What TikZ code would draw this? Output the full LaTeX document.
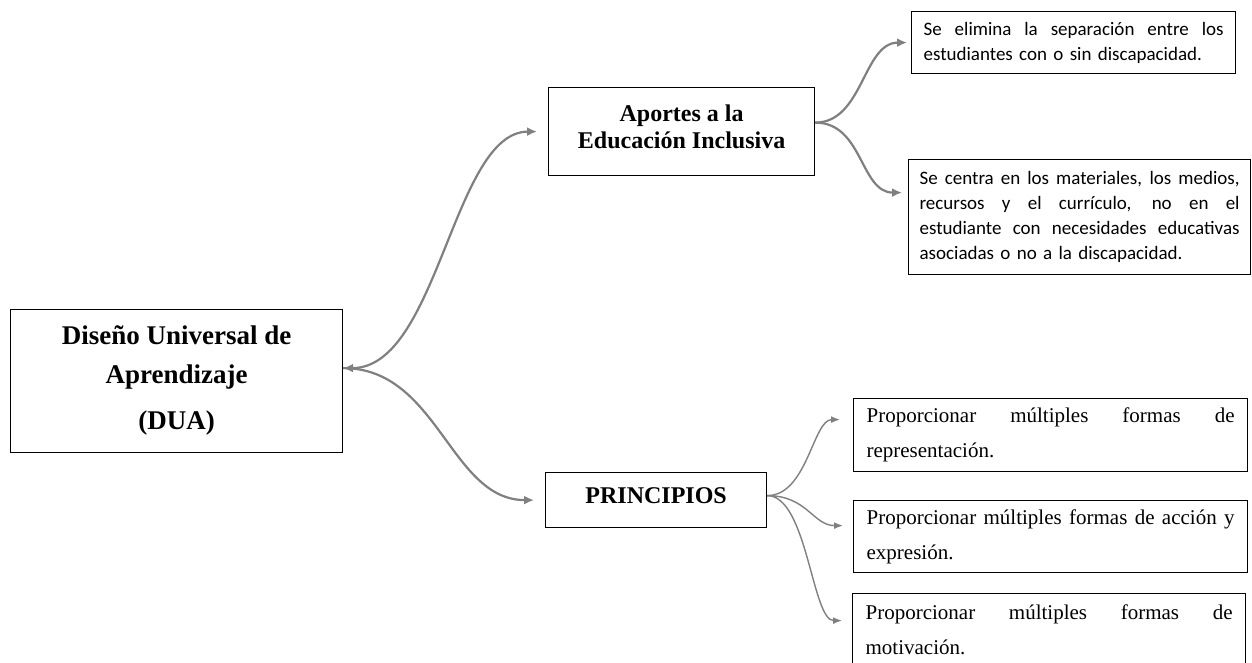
\documentclass[tikz,border=0pt]{standalone}
\usepackage{fontspec}
\setmainfont{Liberation Serif}
\newfontfamily\calibri{Carlito}
\usetikzlibrary{arrows.meta}
\definecolor{conncol}{RGB}{128,128,128}
\newcommand\justline[2]{\leavevmode\hbox to #1{\spaceskip=0.25em plus 1fil\relax #2}}
\begin{document}
\begin{tikzpicture}[x=1pt,y=-1pt,
  box/.style={draw=black, line width=1.2pt, inner sep=0pt, text=black},
  headbox/.style={box, font=\bfseries\fontsize{24}{27}\selectfont, align=center},
  calbox/.style={box, font=\calibri\fontsize{19}{25}\selectfont, align=left, inner xsep=12pt, inner ysep=0pt},
  serbox/.style={box, font=\fontsize{21}{35}\selectfont, align=left, inner xsep=13pt, inner ysep=0pt},
  mainconn/.style={draw=conncol, line width=2.2pt, arrows={-Latex[length=10pt,width=9pt]}},
  bothconn/.style={draw=conncol, line width=2.2pt, arrows={Latex[length=10pt,width=9pt]-Latex[length=10pt,width=9pt]}},
  thinconn/.style={draw=conncol, line width=1.4pt, arrows={-Latex[length=9pt,width=7pt]}}
]
\useasboundingbox (0,0) rectangle (1252,662);
\fill[white] (0,0) rectangle (1252,662);
\clip (0,0) rectangle (1252,662);

% nodes
\node[headbox, anchor=north west, minimum width=332pt, minimum height=143pt,
      font=\bfseries\fontsize{27}{39}\selectfont] (dua) at (10,309)
      {Diseño Universal de\\Aprendizaje\\[7pt](DUA)\rule[-8pt]{0pt}{8pt}};
\node[headbox, anchor=north west, minimum width=266pt, minimum height=88pt] (aportes) at (548,87)
      {Aportes a la\\Educación Inclusiva\rule[-9pt]{0pt}{9pt}};
\node[headbox, anchor=north west, minimum width=221pt, minimum height=55pt] (princ) at (545,472)
      {PRINCIPIOS\rule[-9pt]{0pt}{9pt}};

\node[calbox, anchor=north west, text width=300pt, minimum height=62pt] (e1) at (911,11)
      {\justline{300pt}{Se elimina la separación entre los}\\estudiantes con o sin discapacidad.};
\node[calbox, anchor=north west, text width=320pt, inner xsep=11pt, minimum height=115pt] (e2) at (908,159)
      {\justline{320pt}{Se centra en los materiales, los medios,}\\
       \justline{320pt}{recursos y el currículo, no en el}\\
       \justline{320pt}{estudiante con necesidades educativas}\\
       asociadas o no a la discapacidad.};

\node[serbox, anchor=north west, text width=368pt, minimum height=73pt] (p1) at (853,398)
      {\justline{368pt}{Proporcionar múltiples formas de}\\representación.};
\node[serbox, anchor=north west, text width=368pt, minimum height=72pt] (p2) at (853,500)
      {\justline{368pt}{Proporcionar múltiples formas de acción y}\\expresión.};
\node[serbox, anchor=north west, text width=367pt, minimum height=73pt] (p3) at (852,593)
      {\justline{367pt}{Proporcionar múltiples formas de}\\motivación.};

% connectors
\draw[bothconn, shorten >=11pt] ([yshift=13pt]dua.east) .. controls +(95,0) and +(-95,0) .. (aportes.west);
\draw[mainconn, shorten >=11pt] ([yshift=13pt]dua.east) .. controls +(95,0) and +(-95,0) .. (princ.west);

\draw[mainconn, shorten >=4pt] ([yshift=9pt]aportes.east) .. controls +(48,0) and +(-48,0) .. (e1.west);
\draw[mainconn, shorten >=6pt] ([yshift=9pt]aportes.east) .. controls +(48,0) and +(-48,0) .. ([yshift=24.5pt]e2.west);

\draw[thinconn, shorten >=13pt] ([yshift=4.5pt]princ.east) .. controls +(40,0) and +(-40,0) .. ([yshift=15.5pt]p1.west);
\draw[thinconn, shorten >=10pt] ([yshift=4.5pt]princ.east) .. controls +(40,0) and +(-40,0) .. ([yshift=11pt]p2.west);
\draw[thinconn, shorten >=10pt] ([yshift=4.5pt]princ.east) .. controls +(40,0) and +(-40,0) .. ([yshift=9.5pt]p3.west);
\end{tikzpicture}
\end{document}
